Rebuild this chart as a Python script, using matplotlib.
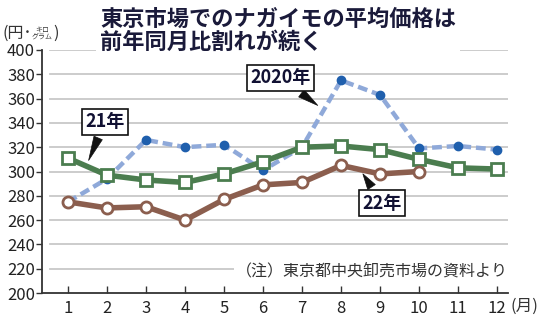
import matplotlib
matplotlib.use("Agg")
import matplotlib.pyplot as plt

plt.rcParams['font.family'] = ['Noto Sans CJK JP', 'DejaVu Sans']

months = list(range(1, 13))
y2020 = [275, 294, 326, 320, 322, 301, 320, 375, 363, 319, 321, 318]
y2021 = [311, 297, 293, 291, 298, 308, 320, 321, 318, 310, 303, 302]
months22 = list(range(1, 11))
y2022 = [275, 270, 271, 260, 277, 289, 291, 305, 298, 300]
yticks = [200, 220, 240, 260, 280, 300, 320, 340, 360, 380, 400]

title = "東京市場でのナガイモの平均価格は\n前年同月比割れが続く"
note = "（注）東京都中央卸売市場の資料より"

fig = plt.figure(figsize=(5.5, 3.26), dpi=100)
ax = fig.add_axes([42/550, 1-293/326, 466/550, 243/326])
ax.set_xlim(0.333, 12.28)
ax.set_ylim(200, 400)

for v in yticks[1:]:
    ax.axhline(v, xmin=8/466, xmax=1, color="#c8c8c8", lw=1.3, zorder=0)

ax.plot(months, y2020, color="#8fa9d9", lw=3.2, ls=(0, (2.2, 1.1)), zorder=2)
ax.plot(months, y2020, ls="none", marker="o", ms=6, color="#1f5fad", zorder=3)
ax.plot(months, y2021, color="#4b7d4f", lw=4, marker="s", ms=8,
        mfc="white", mec="#4b7d4f", mew=2, zorder=4)
ax.plot(months22, y2022, color="#8b5e4e", lw=4, marker="o", ms=8,
        mfc="white", mec="#8b5e4e", mew=2, zorder=4)

for s in ["top", "right"]:
    ax.spines[s].set_visible(False)
for s in ["left", "bottom"]:
    ax.spines[s].set_color("#333333")
    ax.spines[s].set_linewidth(1.3)

ax.set_xticks(months)
ax.set_yticks(yticks)
ax.tick_params(axis="x", direction="in", length=5, width=1, colors="#333333",
               labelsize=12, pad=5, labelcolor="#222222")
ax.tick_params(axis="y", direction="out", length=4, width=1, colors="#333333",
               labelsize=12, pad=1, labelcolor="#222222")

# boxed series labels with pointers
box = dict(boxstyle="square,pad=0.2", fc="white", ec="#111111", lw=1.2)
arrow = dict(arrowstyle="wedge,tail_width=0.5", fc="#111111", ec="#111111", lw=0.5)
ax.annotate("2020年", xy=(7.46, 353), xytext=(6.45, 377), fontsize=13, fontweight="bold",
            color="#111133", ha="center", va="center", bbox=box, arrowprops=arrow, zorder=6)
ax.annotate("21年", xy=(1.5, 307), xytext=(1.95, 341), fontsize=13, fontweight="bold",
            color="#111133", ha="center", va="center", bbox=box, arrowprops=arrow, zorder=6)
ax.annotate("22年", xy=(8.52, 300), xytext=(9.05, 274), fontsize=13, fontweight="bold",
            color="#111133", ha="center", va="center", bbox=box, arrowprops=arrow, zorder=6)

ax.text(12.28, 218, note, fontsize=11.5, color="#333333", ha="right", va="center",
        bbox=dict(boxstyle="square,pad=0.15", fc="white", ec="none"), zorder=5)

fig.text(100/550, 1-31/326, title, fontsize=16, fontweight="bold", color="#1a1a3a",
         ha="left", va="center", linespacing=0.98,
         bbox=dict(boxstyle="square,pad=0.2", fc="white", ec="none"))

fig.text(3/550, 1-33/326, "(円･", fontsize=11.5, color="#333333", ha="left", va="center")
fig.text(42/550, 1-33/326, "キロ\nグラム", fontsize=5, color="#333333", ha="center",
         va="center", linespacing=0.9)
fig.text(53/550, 1-33/326, ")", fontsize=11.5, color="#333333", ha="left", va="center")
fig.text(510/550, 1-306/326, "(月)", fontsize=12, color="#333333", ha="left", va="center")

fig.savefig("out.png", dpi=100)
